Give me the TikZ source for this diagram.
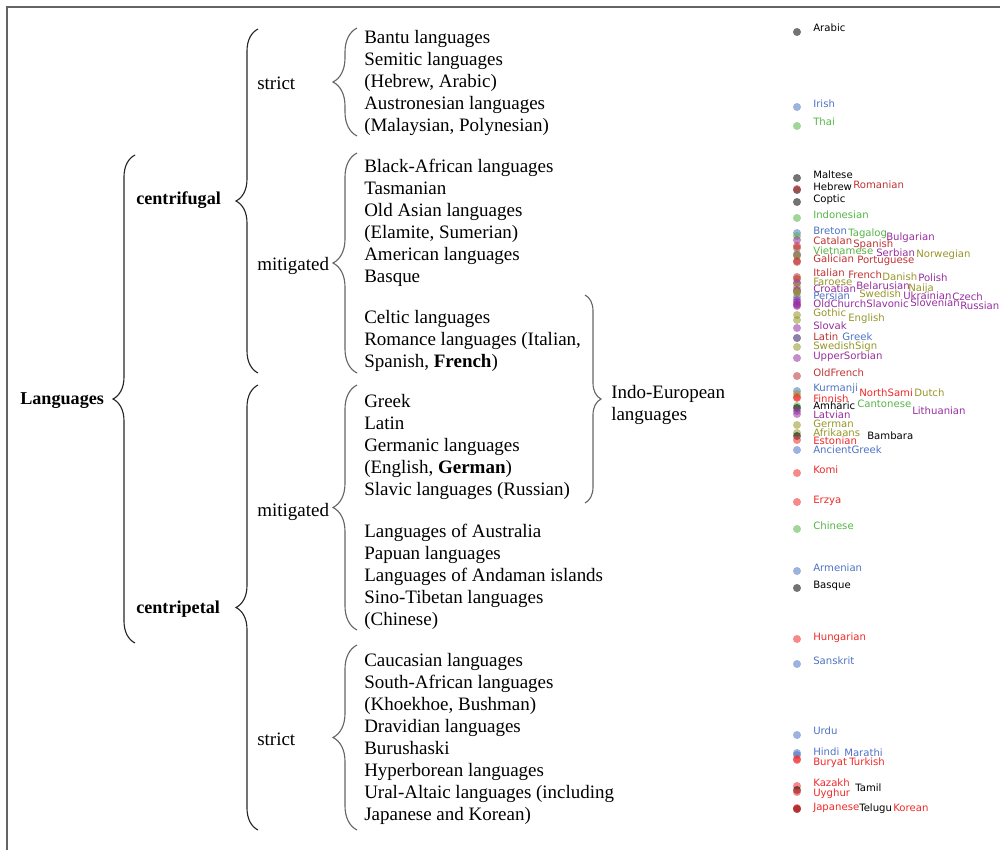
\documentclass[tikz,border=0pt]{standalone}
\usepackage{fontspec}
\setmainfont{Liberation Serif}
\newfontfamily\dejavu{DejaVu Sans}
\usetikzlibrary{decorations.pathreplacing}

\definecolor{langblack}{RGB}{0,0,0}
\definecolor{langblue}{RGB}{76,114,196}
\definecolor{langgreen}{RGB}{85,180,70}
\definecolor{langred}{RGB}{190,50,50}
\definecolor{langbright}{RGB}{240,40,40}
\definecolor{langpurple}{RGB}{150,45,160}
\definecolor{langolive}{RGB}{150,150,40}
\definecolor{framegray}{RGB}{100,100,100}

\begin{document}
\begin{tikzpicture}[x=0.025cm,y=-0.025cm,
  txt/.style={anchor=west,align=left,inner sep=0pt,font=\fontsize{13.5}{15.65}\selectfont},
  hd/.style={txt,font=\fontsize{12.9}{15.65}\selectfont\bfseries},
  brc/.style={decorate,decoration={brace,amplitude=#1},draw=black!85,line width=0.8pt},
  brcin/.style={brc=#1,draw=black!60},
  lbl/.style={anchor=base west,inner sep=0pt,font=\dejavu\fontsize{7.2}{8}\selectfont},
  langdot/.style={fill opacity=0.55}]
\useasboundingbox (0,0) rectangle (1000,850);
\draw[framegray,line width=1.4pt] (1000,7) -- (7,7) -- (7,850);

% tree of languages
\node[hd] (languages) at (20,401) {Languages};
\node[hd] (centrifugal) at (136,200) {centrifugal};
\node[hd] (centripetal) at (136,609) {centripetal};
\node[txt] (strictA) at (257,83) {strict};
\node[txt] (mitigatedA) at (257,266) {mitigated};
\node[txt] (mitigatedB) at (257,512) {mitigated};
\node[txt] (strictB) at (257,739) {strict};

\node[txt] (groupA) at (364,83) {Bantu languages\\Semitic languages\\(Hebrew, Arabic)\\Austronesian languages\\(Malaysian, Polynesian)};
\node[txt] (groupB) at (364,223) {Black-African languages\\Tasmanian\\Old Asian languages\\(Elamite, Sumerian)\\American languages\\Basque};
\node[txt] (groupC) at (364,341) {Celtic languages\\Romance languages (Italian,\\Spanish, \textbf{French})};
\node[txt] (groupD) at (364,447) {Greek\\Latin\\Germanic languages\\(English, \textbf{German})\\Slavic languages (Russian)};
\node[txt] (groupE) at (364,577) {Languages of Australia\\Papuan languages\\Languages of Andaman islands\\Sino-Tibetan languages\\(Chinese)};
\node[txt] (groupF) at (364,739) {Caucasian languages\\South-African languages\\(Khoekhoe, Bushman)\\Dravidian languages\\Burushaski\\Hyperborean languages\\Ural-Altaic languages (including\\Japanese and Korean)};
\node[txt] (indoeuro) at (611,405) {Indo-European\\languages};

% braces
\draw[brc=0.55cm] (135,643) -- (135,155);
\draw[brc=0.55cm] (258,373) -- (258,29);
\draw[brc=0.55cm] (258,830) -- (258,385);
\draw[brcin=0.6cm] (357,136) -- (357,28);
\draw[brcin=0.6cm] (357,373) -- (357,153);
\draw[brcin=0.6cm] (357,630) -- (357,385);
\draw[brcin=0.6cm] (357,830) -- (357,645);
\draw[brcin=0.4cm] (585,295) -- (585,503);

% scatter of languages
\foreach \dy/\lx/\ly/\col/\name in {
  32/813/28/black/Arabic, 107/813/104/blue/Irish, 126/813/122/green/Thai,
  178/813/175/black/Maltese, 190/813/187/black/Hebrew, 189/853/185/red/Romanian,
  202/813/199/black/Coptic, 218/813/215/green/Indonesian,
  233/813/231/blue/Breton, 236/848/233/green/Tagalog, 240/886/237/purple/Bulgarian,
  246/813/241/red/Catalan, 248/853/244/red/Spanish,
  254/813/251/green/Vietnamese, 255/876/253/purple/Serbian, 256/916/254/olive/Norwegian,
  261/813/259/red/Galician, 262/857/260/red/Portuguese,
  277/813/273/red/Italian, 279/848/275/red/French, 283/882/277/olive/Danish, 283/918/278/purple/Polish,
  287/813/282/olive/Faroese,
  290/813/289/purple/Croatian, 291/856/286/purple/Belarusian, 292/908/288/olive/Naija,
  297/813/296/blue/Persian, 293/859/294/olive/Swedish, 302/903/296/purple/Ukrainian, 300/952/297/purple/Czech,
  304/813/304/purple/OldChurchSlavonic, 305/910/303/purple/Slovenian, 306/960/306/purple/Russian,
  315/813/313/olive/Gothic, 320/848/318/olive/English,
  328/813/326/purple/Slovak, 338/813/337/red/Latin, 338/842/337/blue/Greek,
  347/813/346/olive/SwedishSign, 358/813/356/purple/UpperSorbian,
  376/813/373/red/OldFrench,
  391/813/388/blue/Kurmanji, 397/859/393/bright/NorthSami, 394/914/393/olive/Dutch,
  398/813/399/bright/Finnish, 406/857/404/green/Cantonese,
  408/813/406/black/Amharic, 411/912/411/purple/Lithuanian,
  414/813/415/purple/Latvian, 425/813/424/olive/German,
  433/813/433/olive/Afrikaans, 436/867/436/black/Bambara,
  440/813/441/bright/Estonian, 450/813/450/blue/AncientGreek,
  473/813/470/bright/Komi, 502/813/500/bright/Erzya, 529/813/526/green/Chinese,
  571/813/568/blue/Armenian, 588/813/585/black/Basque,
  639/813/637/bright/Hungarian, 664/813/661/blue/Sanskrit,
  735/813/731/blue/Urdu, 753/813/752/blue/Hindi, 755/844/753/blue/Marathi,
  759/813/762/bright/Buryat, 760/849/762/bright/Turkish,
  786/813/783/bright/Kazakh, 790/855/788/black/Tamil, 792/813/793/bright/Uyghur,
  808/813/807/bright/Japanese, 809/859/808/black/Telugu, 809/893/808/bright/Korean}{
  \fill[langdot,lang\col] (797,\dy) circle (0.1cm);
  \node[lbl,text=lang\col] (\name) at (\lx,\ly+3.5) {\name};
}
\end{tikzpicture}
\end{document}
